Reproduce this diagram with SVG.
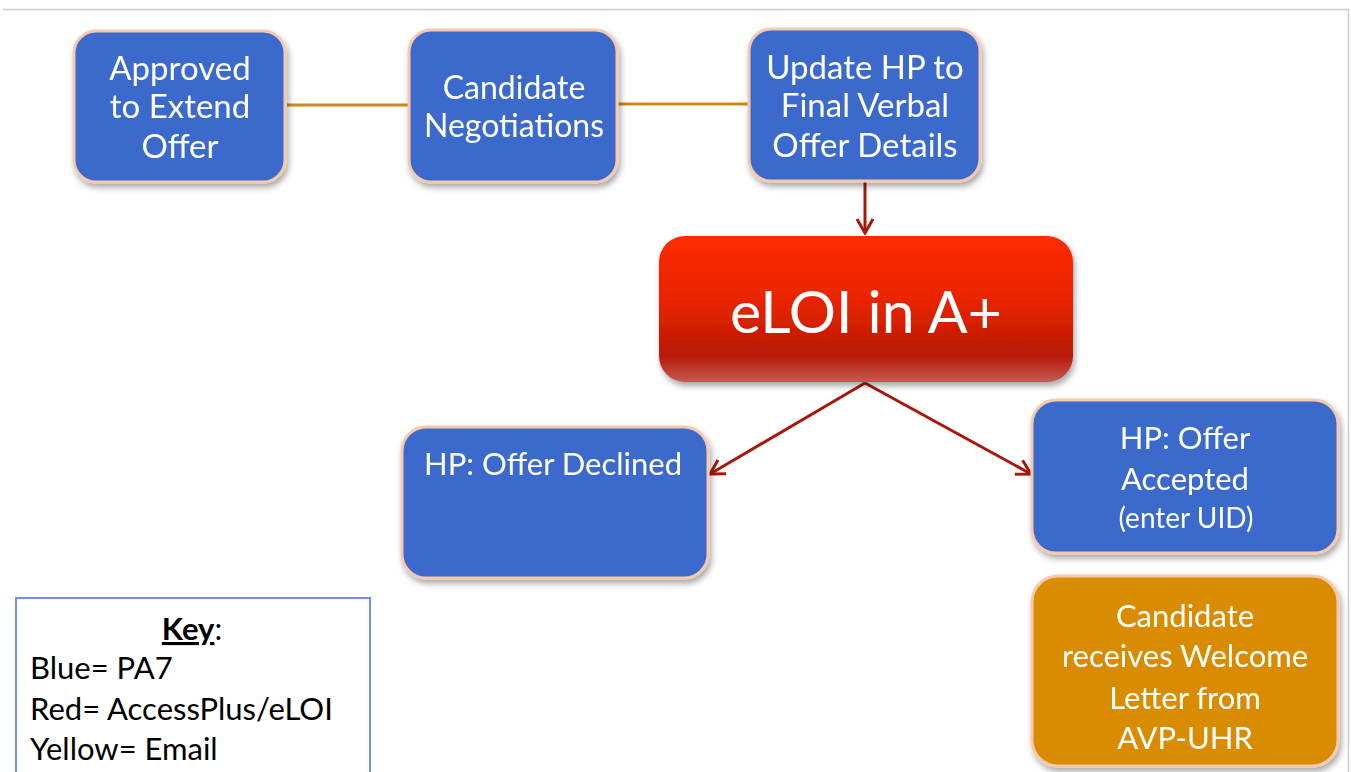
<svg xmlns="http://www.w3.org/2000/svg" width="1351" height="772" viewBox="0 0 1351 772">
  <style>
    .lbl { font-family: Lato, "Open Sans", "Liberation Sans", sans-serif; fill: #ffffff; text-anchor: middle; }
    .node { stroke: #f5c9ae; stroke-width: 3; }
    .blue { fill: #3a6bcc; }
    .gold { fill: #d98c00; }
    .key { font-family: Lato, "Open Sans", "Liberation Sans", sans-serif; fill: #000000; font-size: 31px; }
    .link { stroke: #cc8a14; stroke-width: 3; fill: none; }
    .flow { stroke: #a8180a; stroke-width: 3; fill: none; }
  </style>
  <defs>
    <filter id="shadow" x="-10%" y="-10%" width="125%" height="130%">
      <feGaussianBlur in="SourceAlpha" stdDeviation="3"/>
      <feOffset dx="2" dy="4" result="b"/>
      <feComponentTransfer><feFuncA type="linear" slope="0.35"/></feComponentTransfer>
      <feMerge><feMergeNode/><feMergeNode in="SourceGraphic"/></feMerge>
    </filter>
    <linearGradient id="redFill" x1="0" y1="0" x2="0" y2="1">
      <stop offset="0" stop-color="#ff2a00"/>
      <stop offset="0.45" stop-color="#e82400"/>
      <stop offset="0.82" stop-color="#b81a08"/>
      <stop offset="1" stop-color="#c45a52"/>
    </linearGradient>
    <marker id="chevL" viewBox="0 0 20 20" refX="18" refY="10" markerWidth="20" markerHeight="20" orient="auto" markerUnits="userSpaceOnUse">
      <path d="M4,2 L18,10 L4,18" fill="none" stroke="#a8180a" stroke-width="3"/>
    </marker>
  </defs>

  <!-- page frame -->
  <path d="M3,9.5 H1348.5 V772" fill="none" stroke="#cccccc" stroke-width="1.5"/>

  <!-- connectors -->
  <g id="connectors">
    <line class="link" x1="287" y1="105" x2="409" y2="105"/>
    <line class="link" x1="618" y1="104" x2="749" y2="104"/>
    <line class="flow" x1="865" y1="182" x2="865" y2="233" marker-end="url(#chevL)"/>
    <line class="flow" x1="865" y1="383" x2="710" y2="474" marker-end="url(#chevL)"/>
    <line class="flow" x1="865" y1="383" x2="1031" y2="474" marker-end="url(#chevL)"/>
  </g>

  <g id="approved" filter="url(#shadow)">
    <rect class="node blue" x="74" y="31" width="211" height="151" rx="22"/>
    <text class="lbl" font-size="33"><tspan x="180" y="80">Approved</tspan><tspan x="180" y="118">to Extend</tspan><tspan x="180" y="158">Offer</tspan></text>
  </g>

  <g id="negotiations" filter="url(#shadow)">
    <rect class="node blue" x="409" y="30" width="208" height="152" rx="22"/>
    <text class="lbl" font-size="32"><tspan x="514" y="99">Candidate</tspan><tspan x="514" y="137">Negotiations</tspan></text>
  </g>

  <g id="update-hp" filter="url(#shadow)">
    <rect class="node blue" x="749" y="29" width="231" height="152" rx="22"/>
    <text class="lbl" font-size="33"><tspan x="865" y="79">Update HP to</tspan><tspan x="865" y="117">Final Verbal</tspan><tspan x="865" y="157">Offer Details</tspan></text>
  </g>

  <g id="eloi" filter="url(#shadow)">
    <rect x="659" y="236" width="414" height="146" rx="26" fill="url(#redFill)"/>
    <text class="lbl" font-size="59" x="866" y="333">eLOI in A+</text>
  </g>

  <g id="declined" filter="url(#shadow)">
    <rect class="node blue" x="402" y="427" width="306" height="151" rx="24"/>
    <text class="lbl" font-size="31" x="553" y="475">HP: Offer Declined</text>
  </g>

  <g id="accepted" filter="url(#shadow)">
    <rect class="node blue" x="1032" y="400" width="306" height="153" rx="24"/>
    <text class="lbl" font-size="31"><tspan x="1185" y="449">HP: Offer</tspan><tspan x="1185" y="490">Accepted</tspan></text>
    <text class="lbl" font-size="28" x="1186" y="528">(enter UID)</text>
  </g>

  <g id="welcome-letter" filter="url(#shadow)">
    <rect class="node gold" x="1032" y="576" width="306" height="190" rx="26"/>
    <text class="lbl" font-size="31"><tspan x="1185" y="627">Candidate</tspan><tspan x="1185" y="667">receives Welcome</tspan><tspan x="1185" y="709">Letter from</tspan><tspan x="1185" y="749">AVP-UHR</tspan></text>
  </g>

  <g id="key">
    <rect x="16" y="598" width="354" height="180" fill="#ffffff" stroke="#6f8ff0" stroke-width="2"/>
    <text class="key" x="192" y="640" text-anchor="middle"><tspan font-weight="bold" text-decoration="underline">Key</tspan>:</text>
    <text class="key" x="30" y="679">Blue= PA7</text>
    <text class="key" x="30" y="720">Red= AccessPlus/eLOI</text>
    <text class="key" x="30" y="760">Yellow= Email</text>
  </g>
</svg>
